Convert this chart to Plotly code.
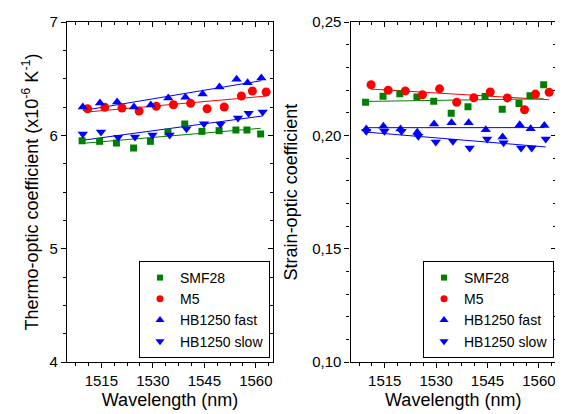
import numpy as np
import plotly.graph_objects as go

# ---------------- data ----------------
series_names = ["SMF28", "M5", "HB1250 fast", "HB1250 slow"]

wl_smf28 = [1509.4, 1514.5, 1519.4, 1524.4, 1529.3, 1534.4, 1539.3, 1544.3, 1549.3, 1554.2, 1557.4, 1561.4]
wl_m5 = [1511.0, 1516.0, 1521.0, 1526.0, 1531.0, 1536.0, 1541.0, 1545.8, 1550.8, 1555.8, 1559.0, 1563.0]
wl_fast = [1509.6, 1514.6, 1519.6, 1524.5, 1529.4, 1534.5, 1539.5, 1544.5, 1549.4, 1554.4, 1557.6, 1561.6]
wl_slow = [1509.6, 1514.9, 1519.9, 1524.8, 1529.9, 1534.9, 1539.8, 1544.9, 1549.7, 1554.8, 1557.9, 1562.0]

thermo_smf28 = [5.952, 5.947, 5.932, 5.888, 5.947, 6.029, 6.100, 6.035, 6.041, 6.047, 6.047, 6.012]
thermo_m5 = [6.235, 6.247, 6.241, 6.214, 6.256, 6.270, 6.282, 6.235, 6.250, 6.347, 6.391, 6.382]
thermo_fast = [6.250, 6.285, 6.294, 6.250, 6.267, 6.329, 6.335, 6.365, 6.426, 6.494, 6.464, 6.506]
thermo_slow = [6.012, 6.029, 5.982, 5.985, 6.003, 6.003, 6.058, 6.102, 6.097, 6.153, 6.194, 6.206]

strain_smf28 = [0.2146, 0.2172, 0.2184, 0.2169, 0.2150, 0.2097, 0.2126, 0.2171, 0.2115, 0.2140, 0.2175, 0.2223]
strain_m5 = [0.2223, 0.2199, 0.2196, 0.2179, 0.2205, 0.2146, 0.2166, 0.2191, 0.2165, 0.2113, 0.2182, 0.2190]
strain_fast = [0.2028, 0.2040, 0.2028, 0.2014, 0.2050, 0.2055, 0.2055, 0.2025, 0.1993, 0.2047, 0.2029, 0.2043]
strain_slow = [0.2018, 0.2018, 0.2018, 0.1996, 0.1971, 0.1974, 0.1944, 0.1984, 0.1967, 0.1944, 0.1944, 0.1984]

x_tickvals = [1515, 1530, 1545, 1560]
thermo_tickvals = [4, 5, 6, 7]
strain_tickvals = [0.10, 0.15, 0.20, 0.25]
strain_ticktext = ["0,10", "0,15", "0,20", "0,25"]

# ---------------- styles ----------------
colors = ["#008000", "#FF0000", "#0000FF", "#0000FF"]
symbols = ["square", "circle", "triangle-up", "triangle-down"]
msizes = [7, 9, 9, 9]
leg_sizes = [6, 7, 8, 8]
FONT = "Liberation Sans, Arial, sans-serif"

wls = [wl_smf28, wl_m5, wl_fast, wl_slow]
thermo = [thermo_smf28, thermo_m5, thermo_fast, thermo_slow]
strain = [strain_smf28, strain_m5, strain_fast, strain_slow]

fig = go.Figure()

def add_panel(values, xa, ya, legend_name):
    for i, name in enumerate(series_names):
        x = np.array(wls[i]); y = np.array(values[i])
        k, b = np.polyfit(x, y, 1)
        xf = np.array([x.min(), x.max()])
        fig.add_trace(go.Scatter(x=xf, y=k * xf + b, mode="lines",
                                 line=dict(color=colors[i], width=1),
                                 xaxis=xa, yaxis=ya, showlegend=False, hoverinfo="skip"))
    for i, name in enumerate(series_names):
        fig.add_trace(go.Scatter(x=wls[i], y=values[i], mode="markers",
                                 marker=dict(symbol=symbols[i], color=colors[i], size=msizes[i],
                                             line=dict(width=0)),
                                 xaxis=xa, yaxis=ya, showlegend=False, name=name))
    for i, name in enumerate(series_names):
        fig.add_trace(go.Scatter(x=[None], y=[None], mode="markers", name=name,
                                 marker=dict(symbol=symbols[i], color=colors[i], size=leg_sizes[i]),
                                 xaxis=xa, yaxis=ya, legend=legend_name, showlegend=True))

add_panel(thermo, "x", "y", "legend")
add_panel(strain, "x2", "y2", "legend2")

W, H = 563, 414
def px_x(v):
    return v / W
def px_y(v):
    return (H - v) / H

ydom = [px_y(354), px_y(14)]
xdom1 = [px_x(59), px_x(265)]
xdom2 = [px_x(342.5), px_x(548)]

tickfont = dict(family=FONT, size=15, color="black")
titlefont = dict(family=FONT, size=18, color="black")
TK = dict(tickwidth=1.2, tickcolor="black")

def xaxis_main(dom, anchor):
    return dict(domain=dom, anchor=anchor, range=[1505, 1565], tickvals=x_tickvals,
                ticks="outside", ticklen=5, **TK, automargin=False,
                minor=dict(ticks="outside", ticklen=3, tick0=1515, dtick=3.75, **TK),
                showline=True, mirror=True, linecolor="black", linewidth=1.3,
                showgrid=False, zeroline=False, tickfont=tickfont,
                title=dict(text="Wavelength (nm)", font=titlefont, standoff=5))

def xaxis_top(over, anchor):
    return dict(overlaying=over, anchor=anchor, side="top", range=[1505, 1565],
                tickvals=x_tickvals, ticks="inside", ticklen=5, **TK, automargin=False,
                minor=dict(ticks="inside", ticklen=3, tick0=1515, dtick=3.75, **TK),
                showticklabels=False, showline=False, showgrid=False, zeroline=False)

def yaxis_main(dom, anchor, rng, tv, minor_dt, title, standoff, ticktext=None):
    d = dict(domain=dom, anchor=anchor, range=rng, tickvals=tv,
             ticks="outside", ticklen=5, **TK, automargin=False,
             minor=dict(ticks="outside", ticklen=3, dtick=minor_dt, **TK),
             showline=True, mirror=True, linecolor="black", linewidth=1.3,
             showgrid=False, zeroline=False, tickfont=tickfont,
             title=dict(text=title, font=titlefont, standoff=standoff))
    if ticktext is not None:
        d["ticktext"] = ticktext
    return d

def yaxis_right(over, anchor, rng, tv, minor_dt):
    return dict(overlaying=over, anchor=anchor, side="right", range=rng, tickvals=tv,
                ticks="inside", ticklen=5, **TK, automargin=False,
                minor=dict(ticks="inside", ticklen=3, dtick=minor_dt, **TK),
                showticklabels=False, showline=False, showgrid=False, zeroline=False)

legend_common = dict(xanchor="right", yanchor="top", bordercolor="black", borderwidth=1,
                     bgcolor="white", font=dict(family=FONT, size=14, color="black"),
                     itemsizing="trace", tracegroupgap=0)

fig.update_layout(
    width=W, height=H, autosize=False,
    margin=dict(l=0, r=0, t=0, b=0, autoexpand=False),
    paper_bgcolor="white", plot_bgcolor="white",
    font=dict(family=FONT, color="black"),
    xaxis=xaxis_main(xdom1, "y"),
    xaxis2=xaxis_main(xdom2, "y2"),
    xaxis3=xaxis_top("x", "y"),
    xaxis4=xaxis_top("x2", "y2"),
    yaxis=yaxis_main(ydom, "x", [4, 7], thermo_tickvals, 0.25,
                     "Thermo-optic coefficient (x10<sup>-6</sup> K<sup>-1</sup>)", 6),
    yaxis2=yaxis_main(ydom, "x2", [0.10, 0.25], strain_tickvals, 0.01,
                      "Strain-optic coefficient", 9, strain_ticktext),
    yaxis3=yaxis_right("y", "x", [4, 7], thermo_tickvals, 0.25),
    yaxis4=yaxis_right("y2", "x2", [0.10, 0.25], strain_tickvals, 0.01),
    legend=dict(x=px_x(262), y=px_y(253), **legend_common),
    legend2=dict(x=px_x(546), y=px_y(253), **legend_common),
)

# invisible anchor traces so the overlay (inside-tick) axes are drawn
fig.add_trace(go.Scatter(x=[None], y=[None], xaxis="x3", yaxis="y3", showlegend=False))
fig.add_trace(go.Scatter(x=[None], y=[None], xaxis="x4", yaxis="y4", showlegend=False))

fig.write_html("out.html")
